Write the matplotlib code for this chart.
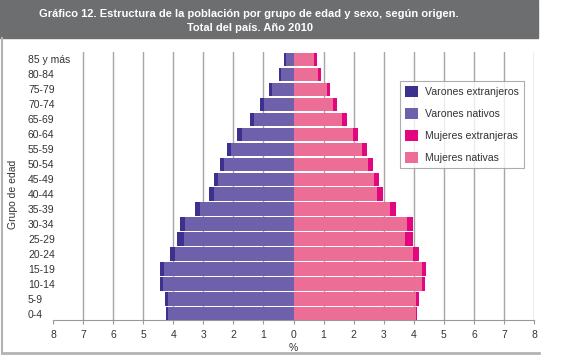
import matplotlib.pyplot as plt
from matplotlib.patches import Rectangle

plt.rcParams['font.family'] = ['Liberation Sans', 'DejaVu Sans']

grupos = ['0-4', '5-9', '10-14', '15-19', '20-24', '25-29', '30-34', '35-39',
          '40-44', '45-49', '50-54', '55-59', '60-64', '65-69', '70-74',
          '75-79', '80-84', '85 y más']

# porcentajes de la poblacion total
varones_nativos = [4.18, 4.18, 4.34, 4.31, 3.94, 3.64, 3.61, 3.11, 2.64, 2.51,
                   2.31, 2.08, 1.71, 1.31, 0.98, 0.71, 0.41, 0.24]
varones_total = [4.24, 4.28, 4.44, 4.44, 4.11, 3.88, 3.78, 3.28, 2.81, 2.64,
                 2.44, 2.21, 1.88, 1.44, 1.11, 0.81, 0.48, 0.31]
mujeres_nativas = [4.06, 4.09, 4.26, 4.29, 3.96, 3.72, 3.76, 3.22, 2.79, 2.69,
                   2.49, 2.29, 1.99, 1.62, 1.32, 1.12, 0.82, 0.69]
mujeres_total = [4.12, 4.19, 4.36, 4.42, 4.16, 3.96, 3.99, 3.42, 2.99, 2.86,
                 2.66, 2.46, 2.16, 1.79, 1.46, 1.22, 0.92, 0.79]

varones_extranjeros = [t - n for t, n in zip(varones_total, varones_nativos)]
mujeres_extranjeras = [t - n for t, n in zip(mujeres_total, mujeres_nativas)]

c_vext = '#3d3190'
c_vnat = '#6f60ac'
c_mext = '#e3077f'
c_mnat = '#ec6e96'

fig = plt.figure(figsize=(5.64, 3.58), dpi=100)

# marco y banda del titulo
fig.patches.append(Rectangle((0, 1 - 38 / 358), 538 / 564, 38 / 358,
                             transform=fig.transFigure, color='#6d6e70', zorder=0))
fig.lines.append(plt.Line2D([2 / 564, 2 / 564], [1 - 38 / 358, 1 - 353 / 358],
                            transform=fig.transFigure, color='#b3b3b3', lw=1.5))
fig.lines.append(plt.Line2D([2 / 564, 539 / 564], [1 - 353 / 358, 1 - 353 / 358],
                            transform=fig.transFigure, color='#b3b3b3', lw=2))
fig.text(249 / 564, 1 - 14 / 358,
         'Gráfico 12. Estructura de la población por grupo de edad y sexo, según origen.',
         color='white', fontsize=8, fontweight='bold', ha='center', va='center')
fig.text(250 / 564, 1 - 28 / 358, 'Total del país. Año 2010',
         color='white', fontsize=8, fontweight='bold', ha='center', va='center')

ax = fig.add_axes([53 / 564, 1 - 320 / 358, 481 / 564, 268 / 358])
y = list(range(len(grupos)))
h = 0.87

ax.barh(y, [-v for v in varones_nativos], height=h, color=c_vnat, label='Varones nativos', zorder=3)
ax.barh(y, [-v for v in varones_extranjeros], left=[-v for v in varones_nativos], height=h,
        color=c_vext, label='Varones extranjeros', zorder=3)
ax.barh(y, mujeres_nativas, height=h, color=c_mnat, label='Mujeres nativas', zorder=3)
ax.barh(y, mujeres_extranjeras, left=mujeres_nativas, height=h,
        color=c_mext, label='Mujeres extranjeras', zorder=3)

ax.set_xlim(-8, 8)
ax.set_ylim(-0.4, 17.47)
for xv in list(range(-7, 0)) + list(range(1, 9)):
    ax.axvline(xv, color='#a6a6a6', lw=1, zorder=1)

ticks = list(range(-8, 9))
ax.set_xticks(ticks)
ax.set_xticklabels([str(abs(t)) for t in ticks], fontsize=7.5, color='#333333')
ax.tick_params(axis='x', length=3, color='#999999', pad=4)

ax.set_yticks(y)
ax.set_yticklabels(grupos, fontsize=7.5, color='#333333')
ax.tick_params(axis='y', length=0, pad=18)
for lab in ax.get_yticklabels():
    lab.set_ha('left')

for s in ['top', 'right', 'left']:
    ax.spines[s].set_visible(False)
ax.spines['bottom'].set_color('#999999')

fig.text(293 / 564, 1 - 348 / 358, '%', fontsize=7.5, color='#333333', ha='center', va='center')
fig.text(13 / 564, 1 - 194 / 358, 'Grupo de edad', fontsize=7.5, color='#333333',
         rotation=90, ha='center', va='center')

handles, labels = ax.get_legend_handles_labels()
order = ['Varones extranjeros', 'Varones nativos', 'Mujeres extranjeras', 'Mujeres nativas']
hl = dict(zip(labels, handles))
leg = ax.legend([hl[k] for k in order], order, loc='upper left',
                bbox_to_anchor=((400 - 53) / 481, (320 - 81) / 268), borderaxespad=0,
                fontsize=7.6, frameon=True, fancybox=False, handlelength=1.25,
                handleheight=1.2, labelspacing=1.05, borderpad=0.45, handletextpad=0.7)
leg.get_frame().set_edgecolor('#999999')
leg.get_frame().set_linewidth(0.8)
for t in leg.get_texts():
    t.set_color('#333333')
leg.set_zorder(5)

fig.savefig('out.png', dpi=100)
